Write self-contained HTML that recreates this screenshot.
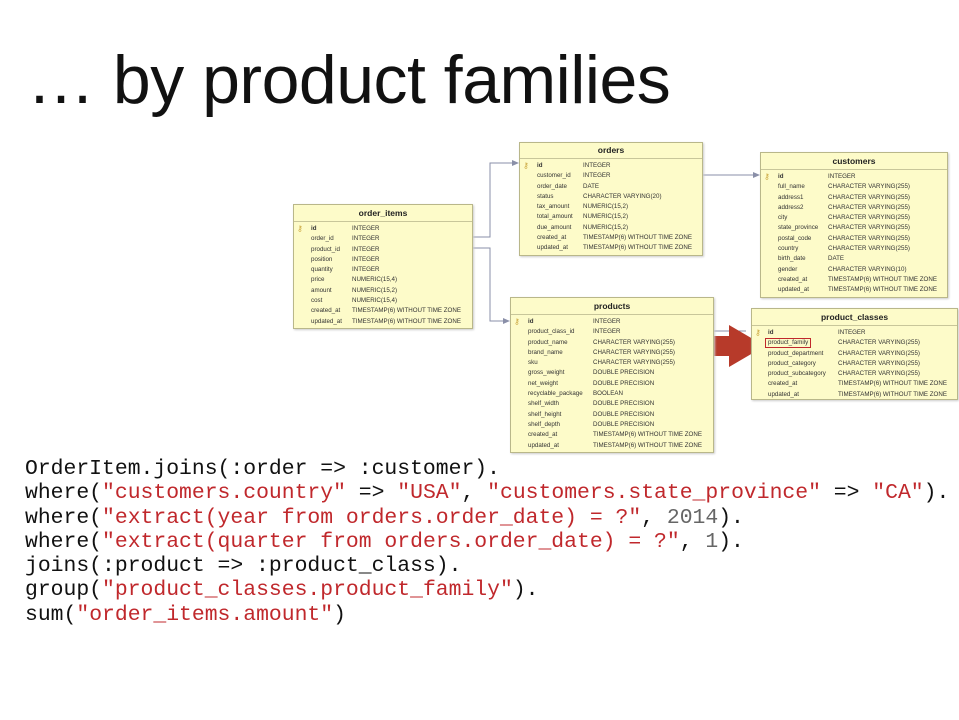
<!DOCTYPE html>
<html><head><meta charset="utf-8"><style>
body{margin:0;width:959px;height:720px;background:#fff;position:relative;overflow:hidden;font-family:"Liberation Sans",sans-serif}
.t{position:absolute;background:#fdfbc9;border:1px solid #b9b78a;box-shadow:1px 1px 2px #ccc;font-size:6.2px;color:#333}
.t .h{font-weight:bold;font-size:8.5px;text-align:center;border-bottom:1px solid #c8c69a;color:#222}
.t .r{position:relative;white-space:nowrap}
.t .r span{position:absolute;top:0}
.key{position:absolute;left:3px;top:0;color:#c9a43a;font-size:8px}
.code{position:absolute;left:25px;top:457px;font-family:"Liberation Mono",monospace;font-size:21.4px;line-height:24.3px;white-space:pre;color:#111}
.s{color:#c0282c}.n{color:#666}
</style></head><body>
<div style="position:absolute;left:27px;top:41px;font-size:68px;font-weight:300;color:#111;white-space:nowrap;letter-spacing:-0.5px">… by product families</div>

<svg style="position:absolute;left:0;top:0" width="959" height="720">
<g stroke="#8a8fa8" fill="none" stroke-width="1">
<polyline points="471,237 490,237 490,163 514,163"/>
<polyline points="471,248 490,248 490,321 505,321"/>
<polyline points="701,175 755,175"/>
<polyline points="712,331 746,331"/>
</g>
<g fill="#8a8fa8">
<polygon points="519,163 512,160 512,166"/>
<polygon points="510,321 503,318 503,324"/>
<polygon points="760,175 753,172 753,178"/>
</g>
<polygon points="712,336 729,336 729,325 765,346 729,367 729,356 712,356" fill="#b73a2a"/>
</svg>

<div class="t" style="left:293px;top:204px;width:178px;height:123px">
<div class="h" style="height:16px;line-height:16px">order_items</div>
<div style="padding-top:2px;line-height:10.3px">
<div class="r"><span class="key">⚷</span><span style="left:17px;font-weight:bold">id</span><span style="left:58px">INTEGER</span>&nbsp;</div>
<div class="r"><span style="left:17px">order_id</span><span style="left:58px">INTEGER</span>&nbsp;</div>
<div class="r"><span style="left:17px">product_id</span><span style="left:58px">INTEGER</span>&nbsp;</div>
<div class="r"><span style="left:17px">position</span><span style="left:58px">INTEGER</span>&nbsp;</div>
<div class="r"><span style="left:17px">quantity</span><span style="left:58px">INTEGER</span>&nbsp;</div>
<div class="r"><span style="left:17px">price</span><span style="left:58px">NUMERIC(15,4)</span>&nbsp;</div>
<div class="r"><span style="left:17px">amount</span><span style="left:58px">NUMERIC(15,2)</span>&nbsp;</div>
<div class="r"><span style="left:17px">cost</span><span style="left:58px">NUMERIC(15,4)</span>&nbsp;</div>
<div class="r"><span style="left:17px">created_at</span><span style="left:58px">TIMESTAMP(6) WITHOUT TIME ZONE</span>&nbsp;</div>
<div class="r"><span style="left:17px">updated_at</span><span style="left:58px">TIMESTAMP(6) WITHOUT TIME ZONE</span>&nbsp;</div>
</div></div>

<div class="t" style="left:519px;top:142px;width:182px;height:112px">
<div class="h" style="height:15px;line-height:15px">orders</div>
<div style="padding-top:2px;line-height:10.3px">
<div class="r"><span class="key">⚷</span><span style="left:17px;font-weight:bold">id</span><span style="left:63px">INTEGER</span>&nbsp;</div>
<div class="r"><span style="left:17px">customer_id</span><span style="left:63px">INTEGER</span>&nbsp;</div>
<div class="r"><span style="left:17px">order_date</span><span style="left:63px">DATE</span>&nbsp;</div>
<div class="r"><span style="left:17px">status</span><span style="left:63px">CHARACTER VARYING(20)</span>&nbsp;</div>
<div class="r"><span style="left:17px">tax_amount</span><span style="left:63px">NUMERIC(15,2)</span>&nbsp;</div>
<div class="r"><span style="left:17px">total_amount</span><span style="left:63px">NUMERIC(15,2)</span>&nbsp;</div>
<div class="r"><span style="left:17px">due_amount</span><span style="left:63px">NUMERIC(15,2)</span>&nbsp;</div>
<div class="r"><span style="left:17px">created_at</span><span style="left:63px">TIMESTAMP(6) WITHOUT TIME ZONE</span>&nbsp;</div>
<div class="r"><span style="left:17px">updated_at</span><span style="left:63px">TIMESTAMP(6) WITHOUT TIME ZONE</span>&nbsp;</div>
</div></div>

<div class="t" style="left:760px;top:152px;width:186px;height:144px">
<div class="h" style="height:16px;line-height:16px">customers</div>
<div style="padding-top:2px;line-height:10.3px">
<div class="r"><span class="key">⚷</span><span style="left:17px;font-weight:bold">id</span><span style="left:67px">INTEGER</span>&nbsp;</div>
<div class="r"><span style="left:17px">full_name</span><span style="left:67px">CHARACTER VARYING(255)</span>&nbsp;</div>
<div class="r"><span style="left:17px">address1</span><span style="left:67px">CHARACTER VARYING(255)</span>&nbsp;</div>
<div class="r"><span style="left:17px">address2</span><span style="left:67px">CHARACTER VARYING(255)</span>&nbsp;</div>
<div class="r"><span style="left:17px">city</span><span style="left:67px">CHARACTER VARYING(255)</span>&nbsp;</div>
<div class="r"><span style="left:17px">state_province</span><span style="left:67px">CHARACTER VARYING(255)</span>&nbsp;</div>
<div class="r"><span style="left:17px">postal_code</span><span style="left:67px">CHARACTER VARYING(255)</span>&nbsp;</div>
<div class="r"><span style="left:17px">country</span><span style="left:67px">CHARACTER VARYING(255)</span>&nbsp;</div>
<div class="r"><span style="left:17px">birth_date</span><span style="left:67px">DATE</span>&nbsp;</div>
<div class="r"><span style="left:17px">gender</span><span style="left:67px">CHARACTER VARYING(10)</span>&nbsp;</div>
<div class="r"><span style="left:17px">created_at</span><span style="left:67px">TIMESTAMP(6) WITHOUT TIME ZONE</span>&nbsp;</div>
<div class="r"><span style="left:17px">updated_at</span><span style="left:67px">TIMESTAMP(6) WITHOUT TIME ZONE</span>&nbsp;</div>
</div></div>

<div class="t" style="left:510px;top:297px;width:202px;height:154px">
<div class="h" style="height:16px;line-height:16px">products</div>
<div style="padding-top:2px;line-height:10.3px">
<div class="r"><span class="key">⚷</span><span style="left:17px;font-weight:bold">id</span><span style="left:82px">INTEGER</span>&nbsp;</div>
<div class="r"><span style="left:17px">product_class_id</span><span style="left:82px">INTEGER</span>&nbsp;</div>
<div class="r"><span style="left:17px">product_name</span><span style="left:82px">CHARACTER VARYING(255)</span>&nbsp;</div>
<div class="r"><span style="left:17px">brand_name</span><span style="left:82px">CHARACTER VARYING(255)</span>&nbsp;</div>
<div class="r"><span style="left:17px">sku</span><span style="left:82px">CHARACTER VARYING(255)</span>&nbsp;</div>
<div class="r"><span style="left:17px">gross_weight</span><span style="left:82px">DOUBLE PRECISION</span>&nbsp;</div>
<div class="r"><span style="left:17px">net_weight</span><span style="left:82px">DOUBLE PRECISION</span>&nbsp;</div>
<div class="r"><span style="left:17px">recyclable_package</span><span style="left:82px">BOOLEAN</span>&nbsp;</div>
<div class="r"><span style="left:17px">shelf_width</span><span style="left:82px">DOUBLE PRECISION</span>&nbsp;</div>
<div class="r"><span style="left:17px">shelf_height</span><span style="left:82px">DOUBLE PRECISION</span>&nbsp;</div>
<div class="r"><span style="left:17px">shelf_depth</span><span style="left:82px">DOUBLE PRECISION</span>&nbsp;</div>
<div class="r"><span style="left:17px">created_at</span><span style="left:82px">TIMESTAMP(6) WITHOUT TIME ZONE</span>&nbsp;</div>
<div class="r"><span style="left:17px">updated_at</span><span style="left:82px">TIMESTAMP(6) WITHOUT TIME ZONE</span>&nbsp;</div>
</div></div>

<div class="t" style="left:751px;top:308px;width:205px;height:90px">
<div class="h" style="height:16px;line-height:16px">product_classes</div>
<div style="padding-top:2px;line-height:10.3px">
<div class="r"><span class="key">⚷</span><span style="left:16px;font-weight:bold">id</span><span style="left:86px">INTEGER</span>&nbsp;</div>
<div class="r"><span style="left:13px;border:1px solid #c0282c;padding:0 2px;line-height:8px;top:0">product_family</span><span style="left:86px">CHARACTER VARYING(255)</span>&nbsp;</div>
<div class="r"><span style="left:16px">product_department</span><span style="left:86px">CHARACTER VARYING(255)</span>&nbsp;</div>
<div class="r"><span style="left:16px">product_category</span><span style="left:86px">CHARACTER VARYING(255)</span>&nbsp;</div>
<div class="r"><span style="left:16px">product_subcategory</span><span style="left:86px">CHARACTER VARYING(255)</span>&nbsp;</div>
<div class="r"><span style="left:16px">created_at</span><span style="left:86px">TIMESTAMP(6) WITHOUT TIME ZONE</span>&nbsp;</div>
<div class="r"><span style="left:16px">updated_at</span><span style="left:86px">TIMESTAMP(6) WITHOUT TIME ZONE</span>&nbsp;</div>
</div></div>

<div class="code">OrderItem.joins(:order => :customer).
where(<span class="s">"customers.country"</span> => <span class="s">"USA"</span>, <span class="s">"customers.state_province"</span> => <span class="s">"CA"</span>).
where(<span class="s">"extract(year from orders.order_date) = ?"</span>, <span class="n">2014</span>).
where(<span class="s">"extract(quarter from orders.order_date) = ?"</span>, <span class="n">1</span>).
joins(:product => :product_class).
group(<span class="s">"product_classes.product_family"</span>).
sum(<span class="s">"order_items.amount"</span>)</div>
</body></html>
